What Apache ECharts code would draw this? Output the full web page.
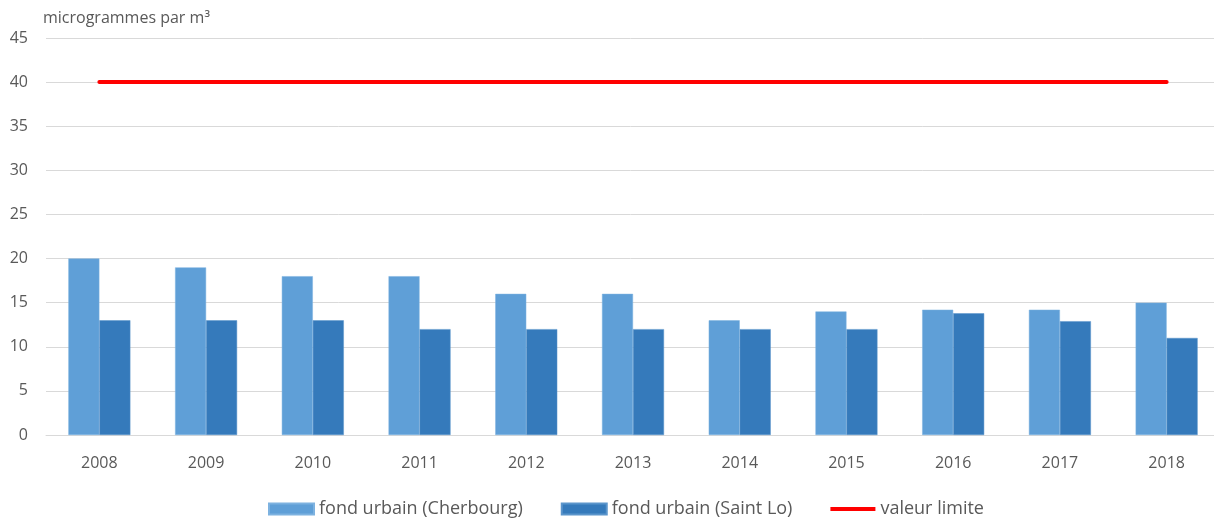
<!DOCTYPE html>
<html><head><meta charset="utf-8">
<script src="https://cdn.jsdelivr.net/npm/echarts@6/dist/echarts.min.js"></script>
<style>html,body{margin:0;padding:0;background:#fff}#c{width:1214px;height:525px}</style>
</head><body><div id="c"></div>
<script>
const years = ['2008','2009','2010','2011','2012','2013','2014','2015','2016','2017','2018'];
const cherbourg = [20, 19, 18, 18, 16, 16, 13, 14, 14.2, 14.2, 15];
const saintLo = [13, 13, 13, 12, 12, 12, 12, 12, 13.8, 12.9, 11];
const limite = [40, 40, 40, 40, 40, 40, 40, 40, 40, 40, 40];
const yTicks = {min: 0, max: 45, interval: 5};
const FONT = '"Open Sans", sans-serif';
const chart = echarts.init(document.getElementById('c'));
chart.setOption({
  animation: false,
  backgroundColor: '#fff',
  title: {text: 'microgrammes par m³', left: 38, top: 5,
    textStyle: {fontFamily: FONT, fontSize: 16, fontWeight: 'normal', color: '#595959'}},
  grid: {left: 46, width: 1174, top: 38, bottom: 90, containLabel: false, outerBoundsMode: 'none'},
  legend: {bottom: 2, left: 263, itemWidth: 45, itemHeight: 11, itemGap: 38,
    textStyle: {fontFamily: FONT, fontSize: 18, color: '#595959'},
    data: [{name: 'fond urbain (Cherbourg)', icon: 'rect'},
           {name: 'fond urbain (Saint Lo)', icon: 'rect'},
           {name: 'valeur limite', icon: 'path://M0,0 L45,0 L45,4 L0,4 Z'}]},
  xAxis: {type: 'category', data: years,
    axisLine: {lineStyle: {color: '#D9D9D9'}}, axisTick: {show: false},
    axisLabel: {fontFamily: FONT, fontSize: 16, color: '#595959', margin: 20}},
  yAxis: {type: 'value', min: yTicks.min, max: yTicks.max, interval: yTicks.interval,
    axisLine: {show: false}, axisTick: {show: false},
    splitLine: {lineStyle: {color: '#D9D9D9'}},
    axisLabel: {fontFamily: FONT, fontSize: 16, color: '#595959', margin: 18}},
  series: [
    {name: 'fond urbain (Cherbourg)', type: 'bar', data: cherbourg, barWidth: 31, barGap: '0%',
      itemStyle: {color: '#5F9FD7', borderColor: '#7DB2E0', borderWidth: 0.5}},
    {name: 'fond urbain (Saint Lo)', type: 'bar', data: saintLo, barWidth: 31,
      itemStyle: {color: '#357ABB', borderColor: '#5B95CB', borderWidth: 0.5}},
    {name: 'valeur limite', type: 'line', data: limite, symbol: 'none',
      lineStyle: {color: '#FF0000', width: 4, cap: 'round'}, itemStyle: {color: '#FF0000'}}
  ]
});
</script></body></html>
